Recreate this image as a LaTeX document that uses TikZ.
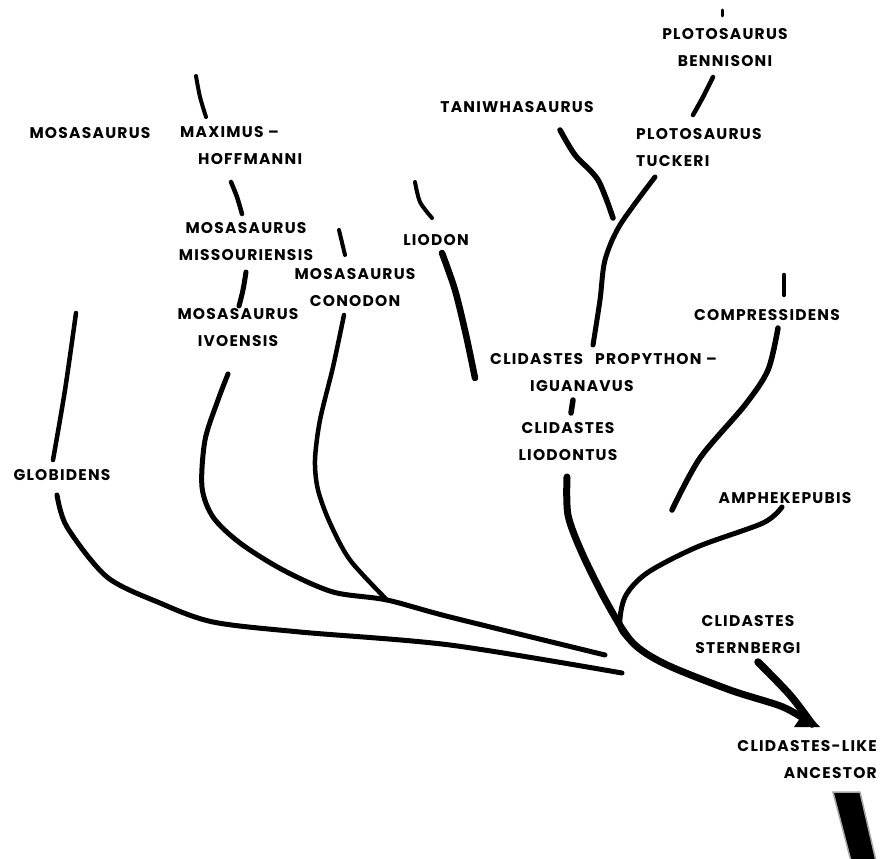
\documentclass[tikz,border=0pt]{standalone}
\usepackage{fontspec}
\setmainfont{Poppins}
\newfontfamily\taxonfont{Poppins}[LetterSpace=8]

\begin{document}
\begin{tikzpicture}[x=1pt,y=-1pt,
    taxon/.style={font=\taxonfont\bfseries\fontsize{15.5}{27}\selectfont, inner sep=0pt, align=center},
    stem/.style={line width=#1, line cap=round},
    stem/.default=4.5pt]
\useasboundingbox (0,0) rectangle (887,859);

\node[taxon] (mosasaurus) at (90,133) {MOSASAURUS};
\node[taxon, anchor=west, align=left] (maximus) at (180,145.5) {MAXIMUS –\\\hspace*{18pt}HOFFMANNI};
\node[taxon] (missouriensis) at (246,242) {MOSASAURUS\\MISSOURIENSIS};
\node[taxon] (ivoensis) at (238,328) {MOSASAURUS\\IVOENSIS};
\node[taxon] (conodon) at (355,288) {MOSASAURUS\\CONODON};
\node[taxon] (liodon) at (436,240) {LIODON};
\node[taxon] (taniwha) at (517,107) {TANIWHASAURUS};
\node[taxon] (bennisoni) at (725,48) {PLOTOSAURUS\\BENNISONI};
\node[taxon, anchor=west, align=left] (tuckeri) at (636,148) {PLOTOSAURUS\\TUCKERI};
\node[taxon, anchor=west, align=left] (propython) at (490,373) {CLIDASTES\hspace{12pt}PROPYTHON –\\\hspace*{40pt}IGUANAVUS};
\node[taxon] (liodontus) at (568,442) {CLIDASTES\\LIODONTUS};
\node[taxon] (compressidens) at (767,315) {COMPRESSIDENS};
\node[taxon] (amphekepubis) at (785,498) {AMPHEKEPUBIS};
\node[taxon] (sternbergi) at (748,635) {CLIDASTES\\STERNBERGI};
\node[taxon, anchor=east, align=right] (ancestor) at (877,760) {CLIDASTES-LIKE\\ANCESTOR};
\node[taxon] (globidens) at (62,475) {GLOBIDENS};

\coordinate (fork-liodontus) at (632,642);
\coordinate (fork-ivoensis) at (387,600);
\coordinate (root) at (812,724);

\draw[stem=4pt] plot[smooth] coordinates {(196,76) (200,97) (206,117)};
\draw[stem] plot[smooth] coordinates {(231,182) (237,197) (242,214)};
\draw[stem=5pt] plot[smooth] coordinates {(246,272) (243,290) (239,306)};
\draw[stem=4pt] (339,230) -- (345,255);
\draw[stem=4pt] plot[smooth] coordinates {(415,182) (420,202) (432,218)};
\draw[stem=6.5pt] plot[smooth] coordinates {(442,253) (455,290) (466,335) (475,378)};
\draw[stem=5.5pt] plot[smooth] coordinates {(560,130) (575,155) (598,180) (613,218)};
\draw[stem=3pt] (722,10) -- (722,16);
\draw[stem] plot[smooth] coordinates {(713,77) (703,97) (693,115)};
\draw[stem=5pt] plot[smooth] coordinates {(655,177) (620,225) (605,260) (600,300) (593,345)};
\draw[stem=5.5pt] (573,400) -- (571,413);
\draw[stem] (784,275) -- (784,295);
\draw[stem=5.5pt] plot[smooth] coordinates {(778,328) (768,370) (745,405) (700,458) (672,510)};
\draw[stem] plot[smooth] coordinates {(76,313) (65,390) (53,460)};

\draw[stem=7pt] plot[smooth] coordinates {(567,477) (568,515) (582,553) (607,603) (fork-liodontus) (665,664) (730,690) (783,707) (root)};
\draw[stem=7.5pt] plot[smooth] coordinates {(758,662) (790,695) (root)};
\fill (794,727) -- (820,727) -- (805,711) -- cycle;
\draw[stem=5pt] plot[smooth] coordinates {(782,507) (763,523) (697,547) (647,573) (625,597) (620,627) (fork-liodontus)};
\draw[stem=5pt] plot[smooth] coordinates {(57,495) (67,527) (107,577) (160,603) (213,622) (300,632) (450,645) (622,673)};
\draw[stem=5pt] plot[smooth] coordinates {(228,374) (218,400) (205,440) (202,487) (213,517) (240,543) (283,570) (333,592) (fork-ivoensis) (450,617) (605,655)};
\draw[stem] plot[smooth] coordinates {(344,315) (333,367) (320,420) (315,460) (318,490) (330,523) (350,560) (fork-ivoensis)};

\filldraw[draw=black!35, fill=black, line width=1.5pt] (833,792) -- (860,792) -- (876,861) -- (851,861) -- cycle;

\end{tikzpicture}
\end{document}
